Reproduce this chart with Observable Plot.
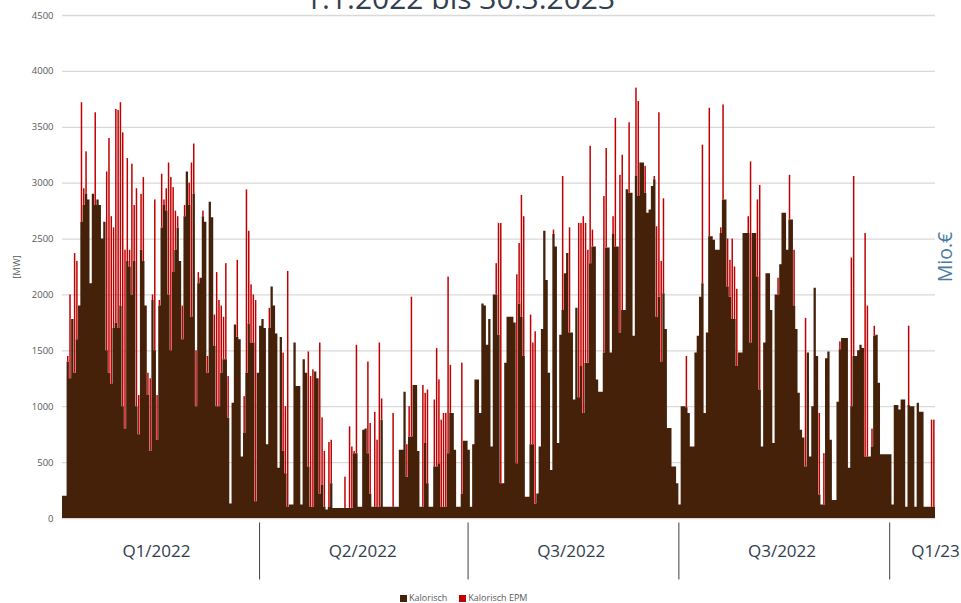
<!DOCTYPE html>
<html>
<head>
<meta charset="utf-8">
<script src="https://cdn.jsdelivr.net/npm/d3@7"></script>
<script src="https://cdn.jsdelivr.net/npm/@observablehq/plot@0.6"></script>
<style>
  html, body { margin: 0; padding: 0; background: #fff; overflow: hidden; }
  #wrap { position: relative; width: 961px; height: 603px; overflow: hidden; font-family: "Open Sans", sans-serif; }
  #title { position: absolute; left: 0; width: 920px; top: -17.5px; line-height: 30px; font-size: 30px; text-align: center; color: #333f4f; }
  #chart { position: absolute; left: 0; top: 0; }
  #legend { position: absolute; left: 400px; top: 591px; font-size: 9px; color: #595959; display: flex; gap: 12px; align-items: center; }
  #legend span.sw { display: inline-block; width: 7px; height: 7px; margin-right: 2px; vertical-align: -0.5px; }
  .rot { position: absolute; white-space: nowrap; transform: translate(-50%, -50%) rotate(-90deg); line-height: 1; }
  #ylab { left: 17px; top: 267px; font-size: 9.5px; color: #595959; }
  #ylab2 { left: 945px; top: 257px; font-size: 19.5px; color: #4a7aa0; }
</style>
</head>
<body>
<div id="wrap">
  <div id="title">1.1.2022 bis 30.3.2023</div>
  <div id="chart"></div>
  <div id="ylab" class="rot">[MW]</div>
  <div id="ylab2" class="rot">Mio.€</div>
  <div id="legend"></div>
</div>
<script>
// Daily values starting 5 Jan 2022 (MW)
const startDate = [2022, 0, 5];
const kalorisch = [
  200,200,1400,1250,1780,1300,1600,1900,2650,2800,
  2900,2850,2100,2900,2800,2850,2800,2500,2650,1500,
  1300,1200,1700,1750,1700,1900,1000,800,2300,2250,
  2000,2300,1000,750,2400,2300,1900,1100,600,1950,
  1500,700,1900,2600,2800,2750,2000,1500,2200,2400,
  2600,2300,1600,2700,3100,2800,1800,2900,1000,2100,
  2150,2700,2650,1300,2830,2690,1540,1000,1000,1300,
  1420,1420,900,130,1030,1730,1620,1600,550,760,
  1300,1740,1570,1570,150,1300,1720,1780,1700,660,
  1700,2070,1900,1650,450,1620,600,400,100,120,
  120,1570,1180,1180,120,1420,1300,460,100,100,
  1310,1250,220,300,100,75,100,310,90,90,
  90,90,90,90,90,90,90,580,580,100,
  100,790,800,580,220,100,100,100,100,880,
  100,100,100,100,100,100,100,610,610,1130,
  370,730,730,1190,1190,600,100,100,670,310,
  100,100,460,460,490,100,100,100,580,940,
  940,610,100,100,220,690,690,610,100,660,
  1240,1240,940,1920,1900,1550,1780,640,2000,2000,
  1640,310,310,1390,1800,1800,1800,1750,490,1920,
  1800,1450,190,190,660,660,130,220,640,1690,
  2570,2130,1300,430,2540,2430,670,1640,1860,2190,
  2370,1660,1660,1060,1880,1080,1360,940,1390,1390,
  2280,2430,2430,1240,1130,1130,1480,2420,2420,1480,
  2540,2430,2430,1660,1860,1860,2940,2910,2910,1630,
  3060,2880,3180,3180,2910,2730,2760,2970,3030,1800,
  1980,1400,2010,1690,805,805,460,460,310,120,
  1000,1000,990,940,640,640,1480,1630,1980,2100,
  940,1660,2520,2520,2490,2400,2400,2550,2850,2850,
  2070,1980,1780,1780,1360,1480,1480,2550,2550,2550,
  1570,2550,2550,2160,1150,640,1570,2190,2190,1860,
  670,2000,2000,2270,2730,2730,2400,2670,2670,1900,
  1690,1120,790,720,460,1480,550,1000,2060,1450,
  210,120,120,1430,1490,700,160,160,1040,1510,
  1610,1610,1610,450,1000,1450,1450,1500,1550,1520,
  550,550,550,640,1630,1640,1210,570,570,570,
  570,570,120,1010,1010,970,1060,1060,100,1010,
  1000,1000,100,1030,950,950,100,100,100,100,100
];
const kalorischEPM = [
  0,0,50,750,0,1070,700,0,1070,150,
  380,0,0,0,830,0,0,0,0,1600,
  2100,1500,900,1910,1950,1820,2450,1600,920,150,
  1170,500,1950,350,500,750,0,200,650,50,
  1350,400,50,480,50,200,1180,1550,760,350,
  100,0,300,100,0,200,1380,450,500,100,
  0,50,0,150,0,0,280,1200,950,600,
  380,860,370,0,0,0,690,0,0,330,
  1640,830,520,430,1800,0,0,0,0,0,
  180,0,0,0,0,0,880,600,2110,0,
  0,0,0,0,0,0,0,1030,1170,1230,
  0,0,1350,600,500,0,580,390,0,0,
  0,0,0,280,0,730,550,20,970,0,
  0,0,0,820,630,0,850,600,1470,190,
  0,0,0,0,840,0,0,0,0,0,
  290,270,1250,0,0,0,0,1090,450,840,
  0,0,600,1060,750,780,840,840,1580,430,
  0,0,0,0,1170,0,0,0,0,0,
  0,0,0,0,0,0,0,0,0,280,
  1000,2330,0,0,0,0,0,0,1690,540,
  1090,1250,0,0,1160,910,1540,0,0,0,
  0,0,0,0,40,0,0,0,1200,0,
  0,940,0,0,0,1560,1280,1760,1250,1010,
  1050,150,0,0,0,0,1400,890,0,0,
  160,1150,0,1410,1390,0,0,630,0,0,
  790,850,0,0,240,0,0,0,30,810,
  1650,900,850,0,0,0,0,0,0,0,
  0,0,460,0,0,0,0,0,0,1240,
  0,0,1150,0,0,0,0,50,850,0,
  430,330,720,470,690,0,0,0,0,150,
  1620,0,0,690,1830,0,0,0,0,0,
  0,0,150,0,0,0,0,400,0,500,
  0,0,0,0,1330,0,0,0,0,0,
  730,0,460,0,0,0,0,0,0,70,
  0,0,0,0,1330,1610,0,0,0,0,
  2000,1350,0,160,90,0,0,0,0,0,
  0,0,0,0,0,0,0,0,0,710,
  0,0,0,0,0,0,0,0,0,780,780
];
const yTicks = [0,500,1000,1500,2000,2500,3000,3500,4000,4500];
const quarterLabels = ["Q1/2022", "Q2/2022", "Q3/2022", "Q3/2022", "Q1/23"];
const quarterLabelDates = ["2022-02-15", "2022-05-16", "2022-08-15", "2022-11-15", "2023-01-21"];
const quarterBounds = ["2022-04-01", "2022-07-01", "2022-10-01", "2023-01-01"];
const seriesNames = ["Kalorisch", "Kalorisch EPM"];
const seriesColors = ["#45210a", "#c00000"];

const DAY = 86400000;
const rows = kalorisch.map((k, i) => {
  const date = new Date(Date.UTC(startDate[0], startDate[1], startDate[2] + i));
  return {date, end: new Date(+date + DAY), kal: k, top: k + kalorischEPM[i], epm: kalorischEPM[i]};
});
const lastRow = rows[rows.length - 1];
const areaRows = rows.concat([{date: lastRow.end, kal: lastRow.kal, top: lastRow.top}]);
const redRows = rows.filter(r => r.epm > 0);

const xDomain = [rows[0].date, lastRow.end];
const qLab = quarterLabels.map((l, i) => ({label: l, date: new Date(quarterLabelDates[i] + "T00:00:00Z")}));
const qB = quarterBounds.map(d => new Date(d + "T00:00:00Z"));

const chart = Plot.plot({
  width: 961,
  height: 585,
  marginTop: 15,
  marginBottom: 67,
  marginLeft: 62,
  marginRight: 26,
  style: {fontFamily: "Open Sans, sans-serif", background: "transparent", overflow: "visible"},
  x: {type: "utc", domain: xDomain, axis: null},
  y: {domain: [0, 4500], axis: null},
  marks: [
    Plot.ruleY(yTicks, {stroke: "#d9d9d9", strokeWidth: 1.3}),
    Plot.areaY(areaRows, {x: "date", y1: 0, y2: "kal", curve: "step-after", fill: seriesColors[0]}),
    Plot.rectY(redRows, {x1: "date", x2: "end", y1: "kal", y2: "top", fill: seriesColors[1], insetLeft: 0.4, insetRight: 0.4}),
    Plot.axisY(yTicks, {tickSize: 0, tickPadding: 9, fontSize: 9.5, fill: "#595959", label: null, tickFormat: d => String(d)}),
    Plot.ruleX(qB, {x: d => d, y1: -40, y2: -550, stroke: "#404040", strokeWidth: 1}),
    Plot.text(qLab, {x: "date", text: "label", frameAnchor: "bottom", dy: 38, fontSize: 17, fill: "#2f3d4e", textAnchor: "middle"})
  ]
});
document.getElementById("chart").appendChild(chart);

const legend = document.getElementById("legend");
seriesNames.forEach((n, i) => {
  const item = document.createElement("div");
  item.innerHTML = `<span class="sw" style="background:${seriesColors[i]}"></span>${n}`;
  legend.appendChild(item);
});
</script>
</body>
</html>
